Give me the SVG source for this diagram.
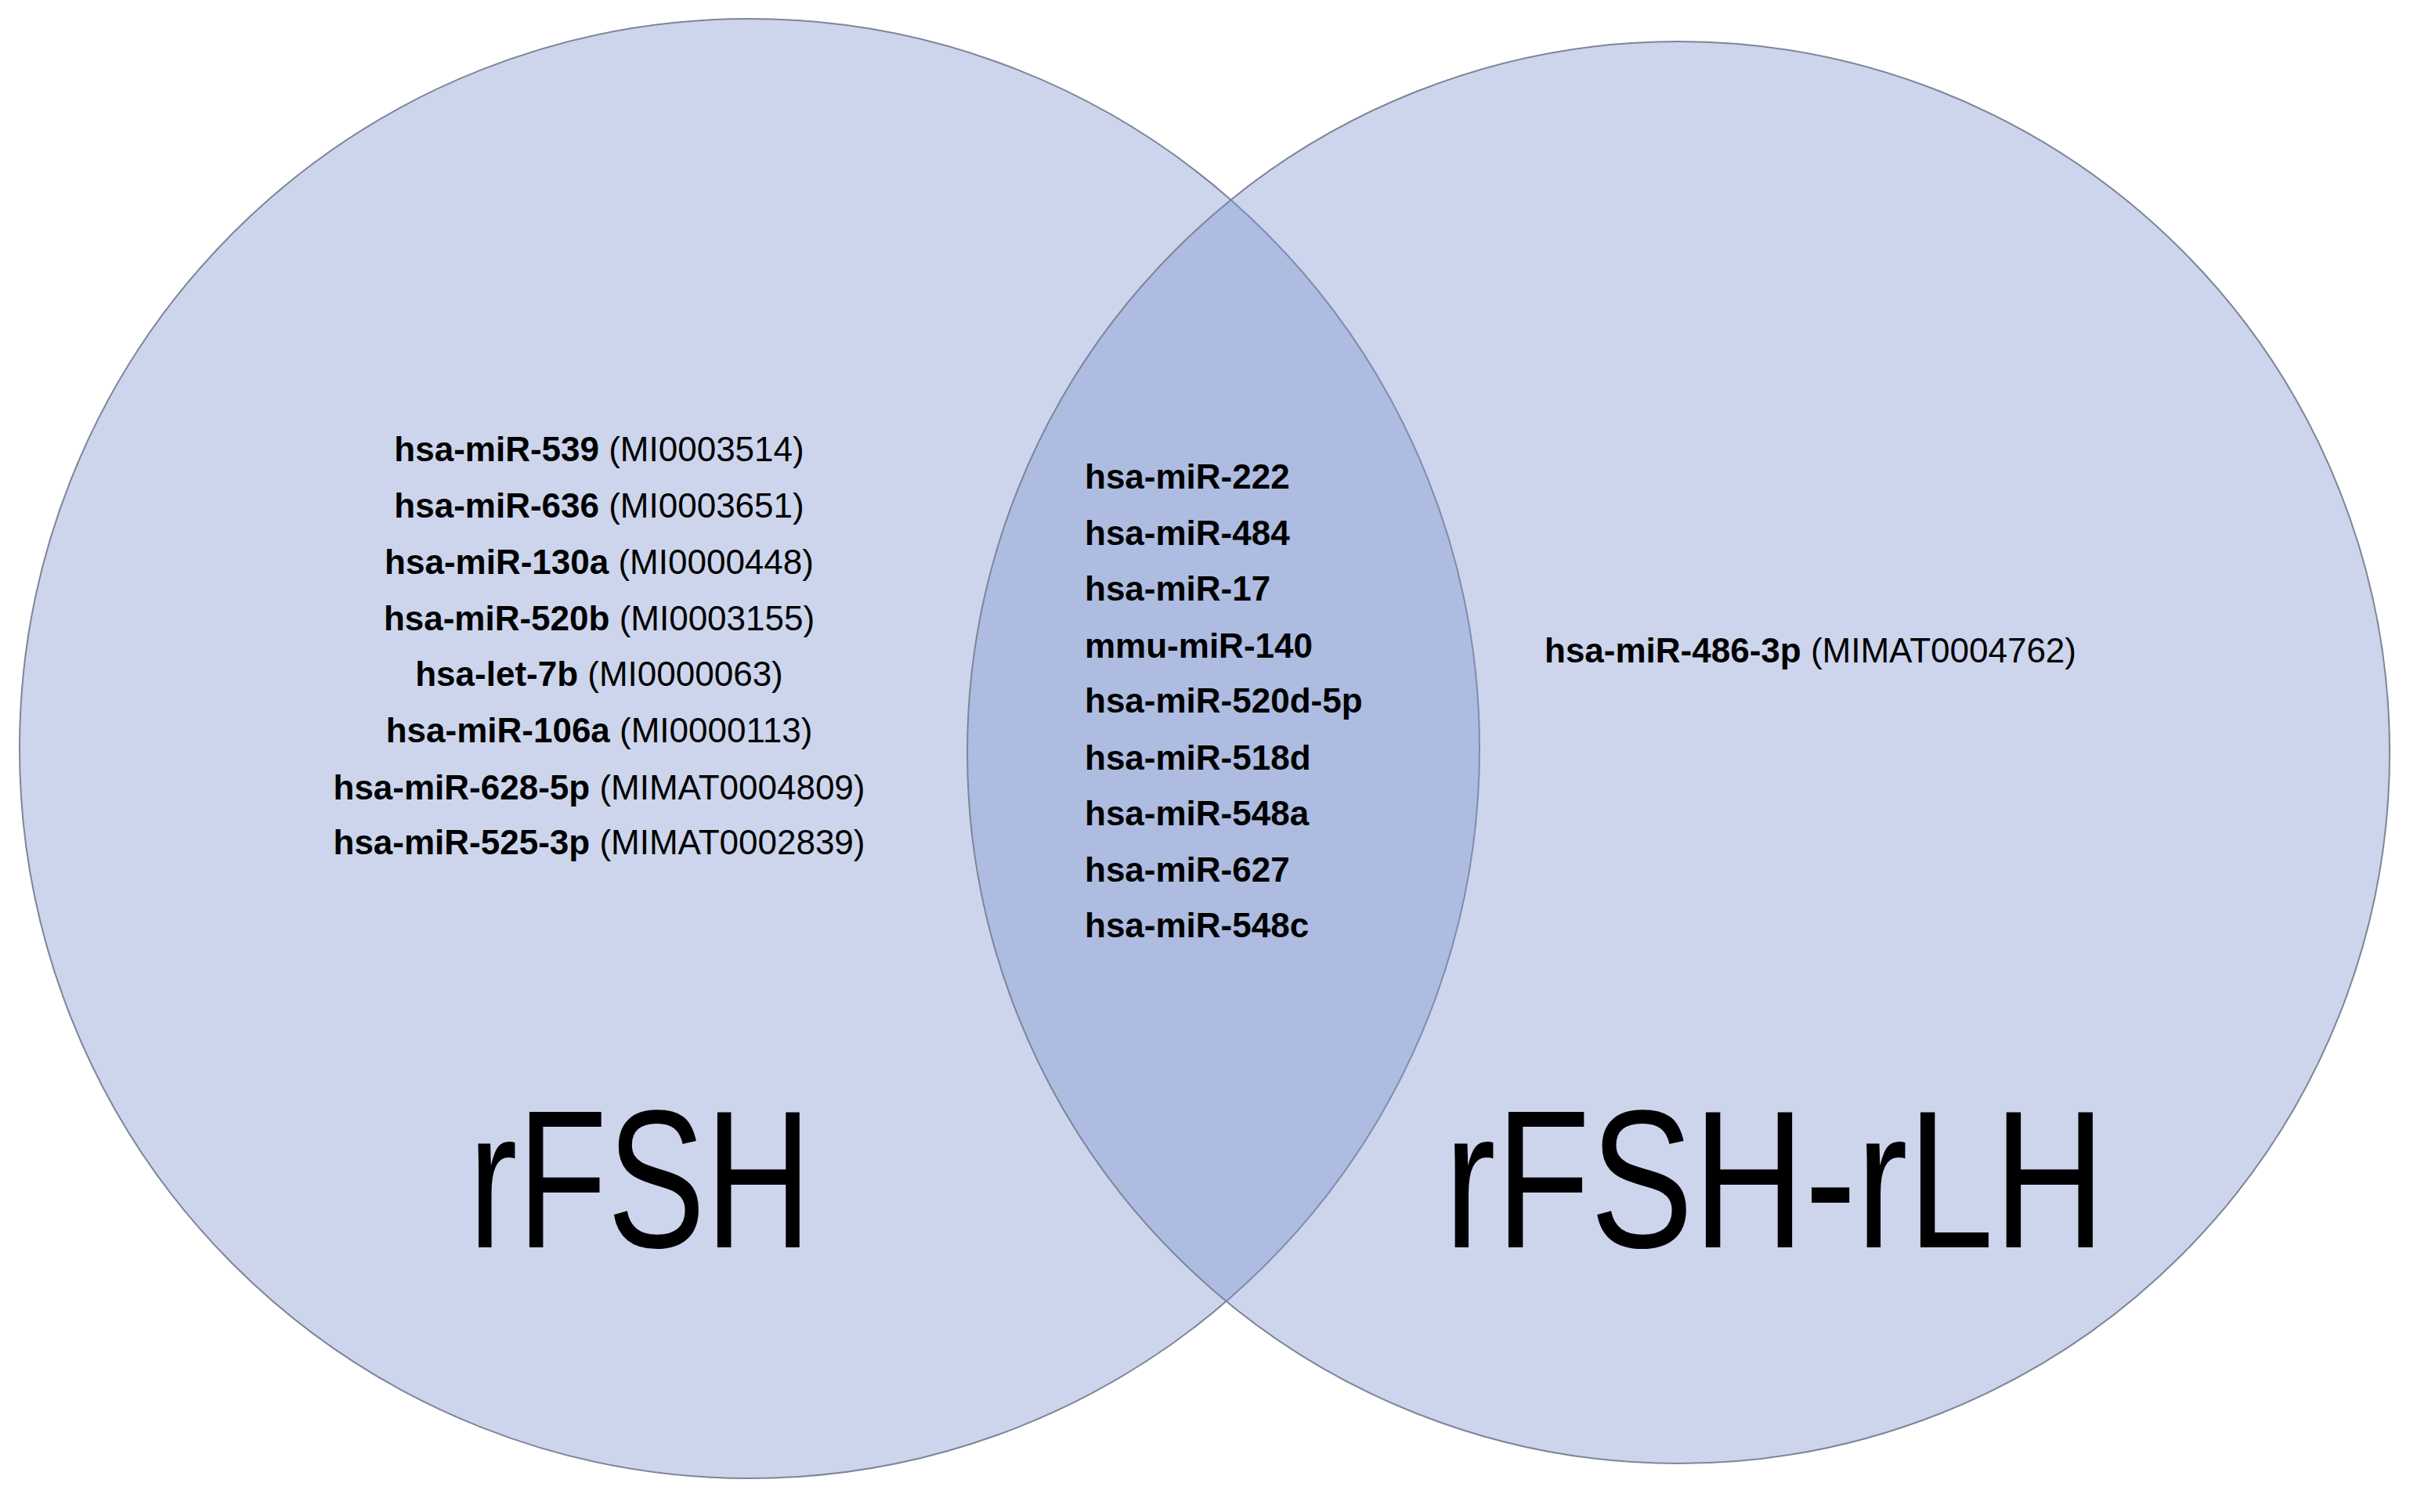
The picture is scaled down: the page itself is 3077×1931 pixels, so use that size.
<svg xmlns="http://www.w3.org/2000/svg" width="3077" height="1931" viewBox="0 0 3077 1931">
<style>
.c{fill:#8096cf;fill-opacity:0.4;stroke:#7d8598;stroke-width:2}
text{font-family:"Liberation Sans",Arial,sans-serif;fill:#000}
.s{font-size:44px}
.b{font-weight:bold}
.big{font-size:250px}
</style>
<rect width="3077" height="1931" fill="#fff"/>
<g id="rFSH"><circle class="c" cx="957" cy="956" r="932"/></g>
<g id="rFSH-rLH"><circle class="c" cx="2143" cy="961" r="908"/></g>
<g id="connectors"/>
<g id="left-list" class="s" text-anchor="middle">
<text x="765" y="589"><tspan class="b">hsa-miR-539</tspan>  (MI0003514)</text>
<text x="765" y="661"><tspan class="b">hsa-miR-636</tspan> (MI0003651)</text>
<text x="765" y="733"><tspan class="b">hsa-miR-130a</tspan> (MI0000448)</text>
<text x="765" y="805"><tspan class="b">hsa-miR-520b</tspan> (MI0003155)</text>
<text x="765" y="876"><tspan class="b">hsa-let-7b</tspan> (MI0000063)</text>
<text x="765" y="948"><tspan class="b">hsa-miR-106a</tspan> (MI0000113)</text>
<text x="765" y="1021"><tspan class="b">hsa-miR-628-5p</tspan> (MIMAT0004809)</text>
<text x="765" y="1091"><tspan class="b">hsa-miR-525-3p</tspan> (MIMAT0002839)</text>
</g>
<g id="mid-list" class="s b">
<text x="1385" y="624">hsa-miR-222</text>
<text x="1385" y="696">hsa-miR-484</text>
<text x="1385" y="767">hsa-miR-17</text>
<text x="1385" y="840">mmu-miR-140</text>
<text x="1385" y="910">hsa-miR-520d-5p</text>
<text x="1385" y="983">hsa-miR-518d</text>
<text x="1385" y="1054">hsa-miR-548a</text>
<text x="1385" y="1126">hsa-miR-627</text>
<text x="1385" y="1197">hsa-miR-548c</text>
</g>
<g id="right-list" class="s">
<text x="1972" y="846"><tspan class="b">hsa-miR-486-3p</tspan> (MIMAT0004762)</text>
</g>
<g id="labels" class="big">
<text x="598" y="1593" textLength="438" lengthAdjust="spacingAndGlyphs">rFSH</text>
<text x="1844" y="1593" textLength="844" lengthAdjust="spacingAndGlyphs">rFSH-rLH</text>
</g>
</svg>
